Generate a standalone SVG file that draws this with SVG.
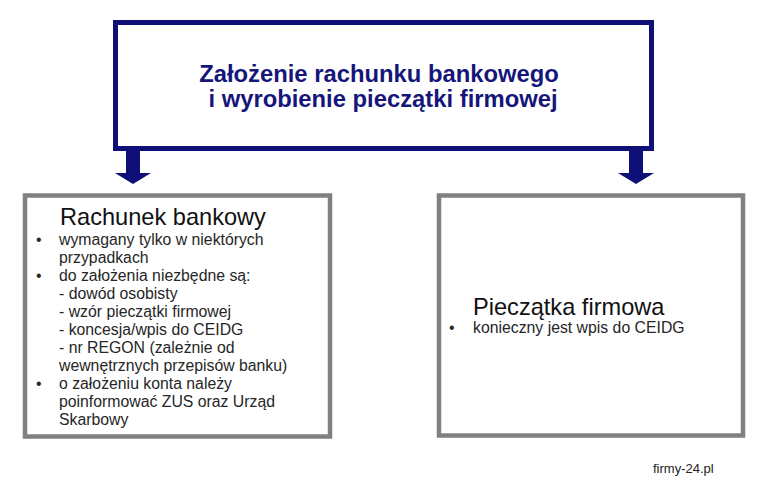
<svg xmlns="http://www.w3.org/2000/svg" width="763" height="491" viewBox="0 0 763 491">
<defs>
<style>
.navybox{fill:#ffffff;stroke:#0f0f78;stroke-width:5}
.graybox{fill:#ffffff;stroke:#808080;stroke-width:4.5}
.arrow{fill:#0f0f78}
.head{font-family:"Liberation Sans",Arial,sans-serif;font-weight:bold;font-size:23.8px;fill:#16167a;text-anchor:middle}
.title{font-family:"Liberation Sans",Arial,sans-serif;font-size:23.6px;fill:#111111}
.body{font-family:"Liberation Sans",Arial,sans-serif;font-size:15.8px;fill:#262626}
.mark{font-family:"Liberation Sans",Arial,sans-serif;font-size:13px;fill:#222222}
</style>
</defs>
<rect width="763" height="491" fill="#ffffff"/>
<g id="connectors">
<path class="arrow" d="M126,150 H140 V173 H151 L133,184 L115,173 H126 Z"/>
<path class="arrow" d="M629,150 H643 V173 H654 L636,184 L618,173 H629 Z"/>
</g>
<g id="top-node">
<rect class="navybox" x="115.5" y="22.5" width="536" height="126"/>
<text class="head" x="379" y="82">Założenie rachunku bankowego</text>
<text class="head" x="383" y="107">i wyrobienie pieczątki firmowej</text>
</g>
<g id="left-node">
<rect class="graybox" x="25" y="195.5" width="305" height="241"/>
<text class="title" x="60" y="225">Rachunek bankowy</text>
<text class="body" x="36" y="245">•</text>
<text class="body" x="59" y="245">wymagany tylko w niektórych</text>
<text class="body" x="59" y="263">przypadkach</text>
<text class="body" x="36" y="281">•</text>
<text class="body" x="59" y="281">do założenia niezbędne są:</text>
<text class="body" x="59" y="299">- dowód osobisty</text>
<text class="body" x="59" y="317">- wzór pieczątki firmowej</text>
<text class="body" x="59" y="335">- koncesja/wpis do CEIDG</text>
<text class="body" x="59" y="353">- nr REGON (zależnie od</text>
<text class="body" x="59" y="371">wewnętrznych przepisów banku)</text>
<text class="body" x="36" y="389">•</text>
<text class="body" x="59" y="389">o założeniu konta należy</text>
<text class="body" x="59" y="407">poinformować ZUS oraz Urząd</text>
<text class="body" x="59" y="425">Skarbowy</text>
</g>
<g id="right-node">
<rect class="graybox" x="439" y="195.5" width="304" height="240"/>
<text class="title" x="473" y="315">Pieczątka firmowa</text>
<text class="body" x="449" y="333">•</text>
<text class="body" x="473" y="333">konieczny jest wpis do CEIDG</text>
</g>
<text class="mark" x="653" y="473">firmy-24.pl</text>
</svg>
